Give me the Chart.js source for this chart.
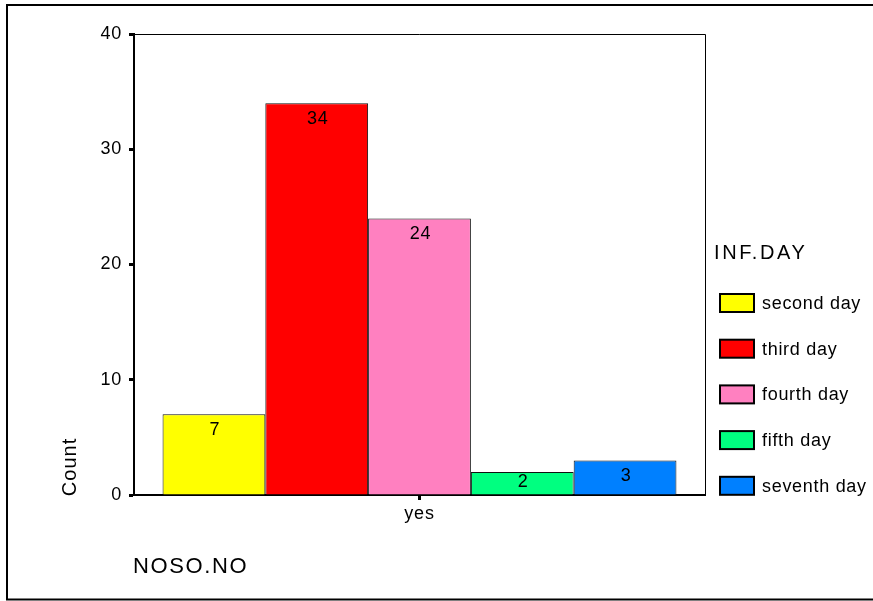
<!DOCTYPE html>
<html>
<head>
<meta charset="utf-8">
<script src="https://cdn.jsdelivr.net/npm/chart.js@4.4.1/dist/chart.umd.min.js"></script>
<style>
html,body{margin:0;padding:0;background:#fff;}
#c{display:block;}
</style>
</head>
<body>
<canvas id="c" width="873" height="601"></canvas>
<script>
// ---- data ----
const categories = ['yes'];
const seriesLabels = ['second day', 'third day', 'fourth day', 'fifth day', 'seventh day'];
const secondDay = [7];
const thirdDay = [34];
const fourthDay = [24];
const fifthDay = [2];
const seventhDay = [3];
const seriesColors = ['#FFFF00', '#FF0000', '#FF80C0', '#00FF80', '#0080FF'];
const yTickValues = [0, 10, 20, 30, 40];
const yAxisTitle = 'Count';
const xAxisTitle = 'NOSO.NO';
const legendTitle = 'INF.DAY';

const seriesData = [secondDay, thirdDay, fourthDay, fifthDay, seventhDay];
const FONT = '"Liberation Sans", Arial, Helvetica, sans-serif';

const decorPlugin = {
  id: 'decor',
  beforeDraw(chart) {
    const c = chart.ctx;
    c.save();
    c.fillStyle = '#fff';
    c.fillRect(0, 0, chart.width, chart.height);
    c.restore();
    c.letterSpacing = '0.8px';
  },
  afterDatasetsDraw(chart) {
    const c = chart.ctx;
    c.save();
    c.font = '18px ' + FONT;
    c.letterSpacing = '0.8px';
    c.fillStyle = '#000';
    c.textAlign = 'center';
    c.textBaseline = 'middle';
    chart.data.datasets.forEach((ds, i) => {
      const meta = chart.getDatasetMeta(i);
      meta.data.forEach((bar, j) => {
        const v = ds.data[j];
        const y = Math.min(bar.y + 16, (bar.y + bar.base) / 2 - 1);
        c.fillText(String(v), bar.x + 1, y);
      });
    });
    c.restore();
  },
  afterDraw(chart) {
    const c = chart.ctx;
    const a = chart.chartArea;
    c.save();
    // plot frame top & right (thin)
    c.strokeStyle = '#000';
    c.lineWidth = 1;
    c.beginPath();
    c.moveTo(a.left, a.top + 0.5);
    c.lineTo(a.right + 0.5, a.top + 0.5);
    c.lineTo(a.right + 0.5, a.bottom);
    c.stroke();
    // outer frame
    c.lineWidth = 2;
    c.beginPath();
    c.moveTo(873, 5);
    c.lineTo(7, 5);
    c.lineTo(7, 599.5);
    c.lineTo(873, 599.5);
    c.stroke();

    c.fillStyle = '#000';
    // y axis title
    c.save();
    c.font = '20px ' + FONT;
    c.letterSpacing = '1px';
    c.translate(76, 467);
    c.rotate(-Math.PI / 2);
    c.textAlign = 'center';
    c.textBaseline = 'alphabetic';
    c.fillText(yAxisTitle, 0, 0);
    c.restore();

    // x axis title
    c.font = '22px ' + FONT;
    c.letterSpacing = '1.6px';
    c.textAlign = 'left';
    c.textBaseline = 'alphabetic';
    c.fillText(xAxisTitle, 133, 573);

    // legend
    c.font = '20px ' + FONT;
    c.letterSpacing = '2.6px';
    c.fillText(legendTitle, 714, 259);
    c.font = '18px ' + FONT;
    c.letterSpacing = '0.7px';
    c.textBaseline = 'middle';
    chart.data.datasets.forEach((ds, i) => {
      const cy = 303 + i * 45.7;
      c.fillStyle = ds.backgroundColor;
      c.fillRect(720, cy - 9, 34, 18);
      c.strokeStyle = '#000';
      c.lineWidth = 2;
      c.strokeRect(720, cy - 9, 34, 18);
      c.fillStyle = '#000';
      c.fillText(ds.label, 762, cy + 1);
    });
    c.restore();
  }
};

new Chart(document.getElementById('c'), {
  type: 'bar',
  data: {
    labels: categories,
    datasets: seriesLabels.map((lab, i) => ({
      label: lab,
      data: seriesData[i],
      backgroundColor: seriesColors[i],
      borderColor: '#111',
      borderWidth: 1,
      categoryPercentage: 0.9,
      barPercentage: 1.0
    }))
  },
  options: {
    responsive: false,
    animation: false,
    devicePixelRatio: 1,
    layout: { padding: { left: 0, top: 34, right: 168, bottom: 0 } },
    plugins: {
      legend: { display: false },
      tooltip: { enabled: false },
      title: { display: false }
    },
    scales: {
      x: {
        offset: true,
        afterFit(scale) { scale.height = 106; },
        grid: {
          offset: false,
          drawOnChartArea: false,
          drawTicks: true,
          tickLength: 5,
          tickWidth: 3,
          tickColor: '#000'
        },
        border: { display: true, color: '#000', width: 2 },
        ticks: {
          color: '#000',
          font: { family: FONT, size: 18 },
          padding: 3,
          maxRotation: 0
        }
      },
      y: {
        min: yTickValues[0],
        max: yTickValues[yTickValues.length - 1],
        afterFit(scale) { scale.width = 134; },
        afterBuildTicks(scale) { scale.ticks = yTickValues.map(v => ({ value: v })); },
        grid: {
          drawOnChartArea: false,
          drawTicks: true,
          tickLength: 5,
          tickWidth: 3,
          tickColor: '#000'
        },
        border: { display: true, color: '#000', width: 2 },
        ticks: {
          color: '#000',
          font: { family: FONT, size: 18 },
          padding: 7
        }
      }
    }
  },
  plugins: [decorPlugin]
});
</script>
</body>
</html>
